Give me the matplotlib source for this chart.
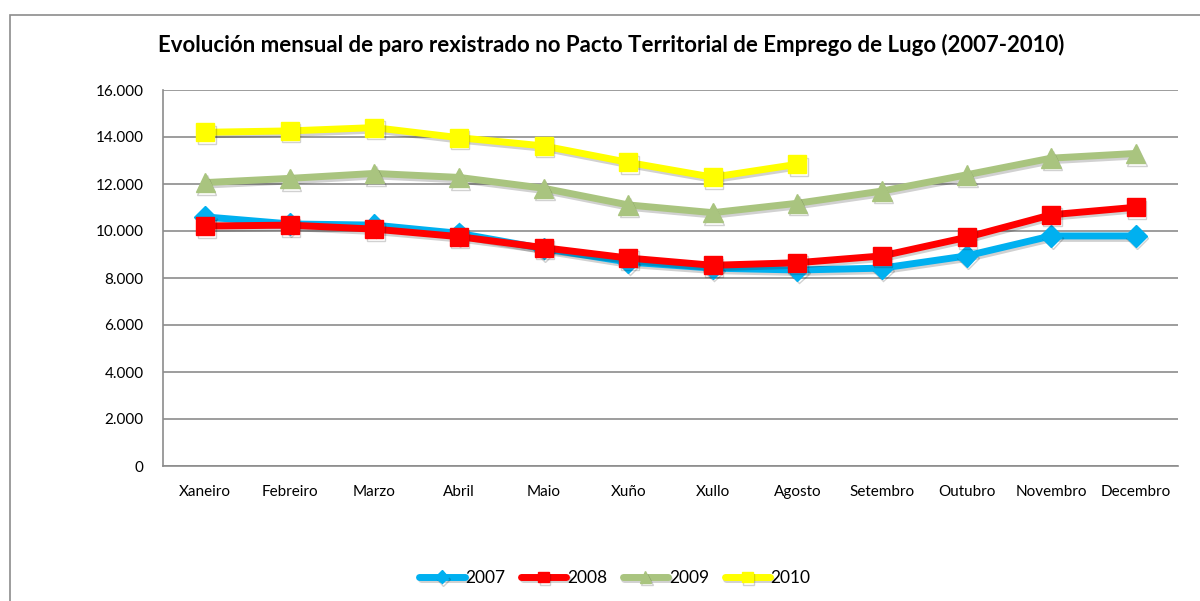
import matplotlib
matplotlib.use("Agg")
import matplotlib.pyplot as plt
import matplotlib.patheffects as pe
from matplotlib.ticker import FuncFormatter
from matplotlib.patches import Rectangle

months = ["Xaneiro", "Febreiro", "Marzo", "Abril", "Maio", "Xuño", "Xullo",
          "Agosto", "Setembro", "Outubro", "Novembro", "Decembro"]
v2007 = [10600, 10300, 10250, 9900, 9250, 8680, 8420, 8340, 8420, 8940, 9790, 9790]
v2008 = [10210, 10250, 10080, 9760, 9290, 8850, 8540, 8650, 8940, 9730, 10690, 11010]
v2009 = [12060, 12240, 12450, 12280, 11820, 11110, 10780, 11180, 11700, 12390, 13100, 13300]
v2010 = [14200, 14260, 14400, 13970, 13620, 12920, 12290, 12840]
years = ["2007", "2008", "2009", "2010"]

plt.rcParams['font.family'] = ['Lato', 'DejaVu Sans']

fig = plt.figure(figsize=(12, 6.01), dpi=100)
fig.patches.append(Rectangle((10/1200, -0.1), 1.2, (601-15)/601 + 0.1,
                             transform=fig.transFigure, fill=False,
                             edgecolor="#8c8c8c", linewidth=1.2))
ax = fig.add_axes([163/1200, 1-466/601, (1178-163)/1200, (466-90)/601])

shadow = [pe.SimpleLineShadow(offset=(1, -1.8), shadow_color="black", alpha=0.18), pe.Normal()]
specs = [
    (v2007, "#00b0f0", "D", 11),
    (v2008, "#ff0000", "s", 13),
    (v2009, "#a9c47f", "^", 14),
    (v2010, "#ffff00", "s", 13),
]
x = list(range(len(months)))
for (vals, col, mk, ms), yr in zip(specs, years):
    ax.plot(x[:len(vals)], vals, color=col, linewidth=5, marker=mk, markersize=ms,
            markerfacecolor=col, markeredgecolor=col, label=yr,
            path_effects=shadow, solid_capstyle="round", zorder=3)

ax.set_xlim(-0.5, 11.5)
ax.set_ylim(0, 16000)
ax.set_yticks(range(0, 16001, 2000))
ax.yaxis.set_major_formatter(FuncFormatter(lambda v, p: f"{int(v):,}".replace(",", ".")))
ax.set_xticks(x)
ax.set_xticklabels(months)
ax.tick_params(axis="both", length=0, labelsize=11, colors="black")
ax.tick_params(axis="x", pad=14)
ax.tick_params(axis="y", pad=14)
ax.grid(axis="y", color="#8c8c8c", linewidth=1.2)
ax.set_axisbelow(True)
for s in ["top", "right"]:
    ax.spines[s].set_visible(False)
for s in ["left", "bottom"]:
    ax.spines[s].set_color("#8c8c8c")
    ax.spines[s].set_linewidth(1.2)

fig.text(611/1200, 1-45/601, "Evolución mensual de paro rexistrado no Pacto Territorial de Emprego de Lugo (2007-2010)",
         ha="center", va="center", fontsize=16, fontweight="bold")

leg = fig.legend(loc="center", bbox_to_anchor=(615/1200, 1-578/601), ncol=4, frameon=False,
                 fontsize=12.5, handlelength=2.6, handletextpad=0.05, columnspacing=0.9,
                 markerscale=0.6)

fig.savefig("out.png", dpi=100)
